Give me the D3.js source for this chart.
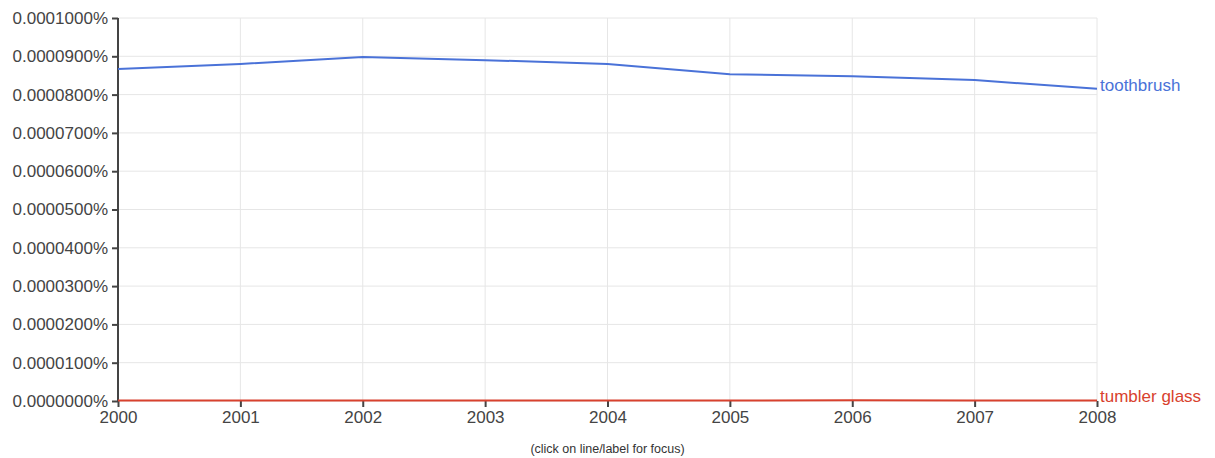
<!DOCTYPE html>
<html>
<head>
<meta charset="utf-8">
<script src="https://cdn.jsdelivr.net/npm/d3@7"></script>
<style>
  body { margin: 0; background: #fff; font-family: "Liberation Sans", Arial, sans-serif; }
  .grid line { stroke: #e6e6e6; }
  .axis text { fill: #444; font-size: 17px; }
</style>
</head>
<body>
<div id="chart"></div>
<script>
var svgWidth = 1215;
var svgHeight = 458;

var margin = { top: 18, right: 118, bottom: 57, left: 118 };
var width = svgWidth - margin.left - margin.right;
var height = svgHeight - margin.top - margin.bottom;

// data (values in percent)
var years = [2000, 2001, 2002, 2003, 2004, 2005, 2006, 2007, 2008];
var toothbrush = [0.0000867, 0.0000880, 0.0000898, 0.0000890, 0.0000880, 0.0000853, 0.0000848, 0.0000838, 0.0000815];
var tumblerGlass = [0.0000001, 0.0000001, 0.0000001, 0.0000001, 0.0000001, 0.0000001, 0.0000002, 0.0000001, 0.0000001];
var yTicks = [0, 0.00001, 0.00002, 0.00003, 0.00004, 0.00005, 0.00006, 0.00007, 0.00008, 0.00009, 0.0001];

var series = [
  { name: "toothbrush", values: toothbrush, color: "#4a72d8" },
  { name: "tumbler glass", values: tumblerGlass, color: "#d8412e" }
];

var svg = d3.select("#chart")
  .append("svg")
  .attr("width", svgWidth)
  .attr("height", svgHeight);

var chartGroup = svg.append("g")
  .attr("transform", `translate(${margin.left}, ${margin.top})`);

var xScale = d3.scaleLinear()
  .domain([years[0], years[years.length - 1]])
  .range([0, width]);

var yScale = d3.scaleLinear()
  .domain([0, 0.0001])
  .range([height, 0]);

// grid lines
var grid = chartGroup.append("g").attr("class", "grid");

grid.selectAll("line.h")
  .data(yTicks)
  .enter()
  .append("line")
  .attr("class", "h")
  .attr("x1", 0)
  .attr("x2", width)
  .attr("y1", d => yScale(d))
  .attr("y2", d => yScale(d));

grid.selectAll("line.v")
  .data(years)
  .enter()
  .append("line")
  .attr("class", "v")
  .attr("x1", d => xScale(d))
  .attr("x2", d => xScale(d))
  .attr("y1", 0)
  .attr("y2", height);

// axes
var leftAxis = d3.axisLeft(yScale)
  .tickValues(yTicks)
  .tickSize(6)
  .tickPadding(4)
  .tickFormat(d => d.toFixed(7) + "%");

var bottomAxis = d3.axisBottom(xScale)
  .tickValues(years)
  .tickSize(6)
  .tickPadding(4)
  .tickFormat(d3.format("d"));

var yAxis = chartGroup.append("g")
  .attr("class", "axis")
  .call(leftAxis);
yAxis.select(".domain").attr("stroke", "#444").attr("stroke-width", 2).attr("d", `M0,0V${height}`);
yAxis.selectAll(".tick line").attr("stroke", "#444").attr("stroke-width", 2);

var xAxis = chartGroup.append("g")
  .attr("class", "axis")
  .attr("transform", `translate(0, ${height})`)
  .call(bottomAxis);
xAxis.select(".domain").remove();
xAxis.selectAll(".tick line").attr("stroke", "#444").attr("stroke-width", 2);

// lines
var line = d3.line()
  .x((d, i) => xScale(years[i]))
  .y(d => yScale(d));

chartGroup.selectAll(".series")
  .data(series)
  .enter()
  .append("path")
  .attr("class", "series")
  .attr("fill", "none")
  .attr("stroke", d => d.color)
  .attr("stroke-width", 2)
  .attr("d", d => line(d.values));

// end labels
chartGroup.selectAll(".label")
  .data(series)
  .enter()
  .append("text")
  .attr("class", "label")
  .attr("x", width + 3)
  .attr("y", d => yScale(d.values[d.values.length - 1]))
  .attr("dy", "0.1em")
  .attr("fill", d => d.color)
  .attr("font-size", "17px")
  .text(d => d.name);

svg.append("text")
  .attr("x", margin.left + width / 2)
  .attr("y", 453)
  .attr("text-anchor", "middle")
  .attr("font-size", "12.5px")
  .attr("fill", "#333")
  .text("(click on line/label for focus)");
</script>
</body>
</html>
